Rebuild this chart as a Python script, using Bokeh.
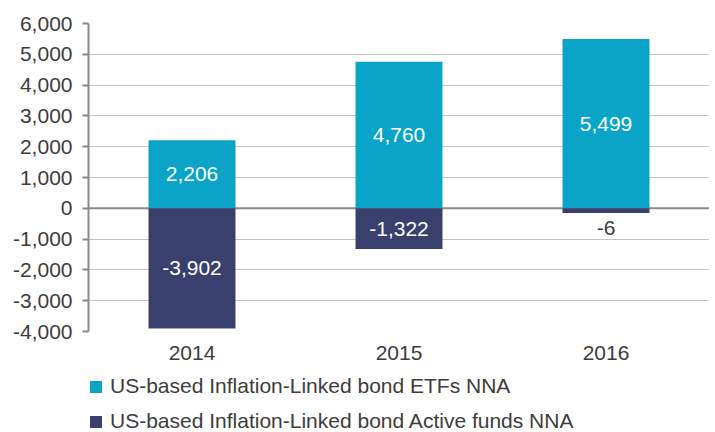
from bokeh.plotting import figure
from bokeh.layouts import column
from bokeh.models import (ColumnDataSource, FactorRange, Range1d, FixedTicker,
                          NumeralTickFormatter, Legend, LegendItem, Span)
from bokeh.embed import file_html
from bokeh.resources import INLINE
from bokeh.core.properties import value

# ---- data ----
years = ["2014", "2015", "2016"]
etf_nna = [2206, 4760, 5499]
active_nna = [-3902, -1322, -6]
y_ticks = [-4000, -3000, -2000, -1000, 0, 1000, 2000, 3000, 4000, 5000, 6000]
etf_name = "US-based Inflation-Linked bond ETFs NNA"
active_name = "US-based Inflation-Linked bond Active funds NNA"

# ---- style ----
CYAN = "#0aa4c8"
NAVY = "#3a406d"
TEXT = "#3c3c3c"
FONT = "Liberation Sans"
FS = "21px"
MIN_VISIBLE = 150      # minimum drawn extent for tiny bars (display only)
SMALL = 1000           # below this magnitude the label sits under the bar

def fmt(v):
    return f"{v:,}"

active_draw = [min(v, -MIN_VISIBLE) if v < 0 else v for v in active_nna]

src = ColumnDataSource(dict(
    year=years, etf=etf_nna, active=active_nna, active_draw=active_draw,
))

lab_x, lab_y, lab_t, lab_c = [], [], [], []
for yr, v in zip(years, etf_nna):
    lab_x.append(yr); lab_y.append(v / 2); lab_t.append(fmt(v)); lab_c.append("white")
for yr, v in zip(years, active_nna):
    lab_x.append(yr)
    if abs(v) >= SMALL:
        lab_y.append(v / 2); lab_c.append("white")
    else:
        lab_y.append(-650); lab_c.append(TEXT)
    lab_t.append(fmt(v))
lab_src = ColumnDataSource(dict(x=lab_x, y=lab_y, t=lab_t, c=lab_c))

p = figure(x_range=FactorRange(*years, range_padding=0),
           y_range=Range1d(y_ticks[0], y_ticks[-1]),
           frame_width=621, frame_height=308,
           min_border_left=88, min_border_top=23, min_border_right=0,
           min_border_bottom=0,
           output_backend="svg", toolbar_location=None)
p.outline_line_color = None
p.background_fill_color = "white"

zero = Span(location=0, dimension="width", line_color="#8a8a8a", line_width=2,
            level="underlay")
p.add_layout(zero)

p.vbar(x="year", top="etf", bottom=0, width=0.42, source=src,
       fill_color=CYAN, line_color=None)
p.vbar(x="year", top=0, bottom="active_draw", width=0.42, source=src,
       fill_color=NAVY, line_color=None)

p.text(x="x", y="y", text="t", text_color="c", source=lab_src,
       text_align="center", text_baseline="middle",
       text_font=value(FONT), text_font_size=FS)

# axes
p.yaxis.ticker = FixedTicker(ticks=y_ticks)
p.yaxis.formatter = NumeralTickFormatter(format="0,0")
p.yaxis.axis_line_color = "#8a8a8a"
p.yaxis.axis_line_width = 2
p.yaxis.major_tick_line_color = "#8a8a8a"
p.yaxis.major_tick_line_width = 2
p.yaxis.major_tick_out = 6
p.yaxis.major_tick_in = 0
p.yaxis.minor_tick_line_color = None
p.yaxis.major_label_text_font = FONT
p.yaxis.major_label_text_font_size = FS
p.yaxis.major_label_text_color = TEXT
p.yaxis.major_label_standoff = 10

p.xaxis.axis_line_color = None
p.xaxis.major_tick_line_color = None
p.xaxis.minor_tick_line_color = None
p.xaxis.major_label_text_font = FONT
p.xaxis.major_label_text_font_size = FS
p.xaxis.major_label_text_color = TEXT
p.xaxis.major_label_standoff = 8

p.xgrid.grid_line_color = None
p.ygrid.grid_line_color = "#c4c4c4"
p.ygrid.grid_line_width = 1

# ---- legend strip below the chart ----
LEG_H = 70
q = figure(x_range=p.x_range, y_range=Range1d(0, 1),
           width=709, height=LEG_H,
           min_border_left=0, min_border_right=0, min_border_top=0,
           min_border_bottom=0, x_axis_type=None, y_axis_type=None,
           output_backend="svg", toolbar_location=None)
q.outline_line_color = None
q.xgrid.grid_line_color = None
q.ygrid.grid_line_color = None
# zero-height proxies (invisible) that only supply the legend swatches
g_etf = q.vbar(x="year", top=0, bottom=0, width=0.42, source=src,
               fill_color=CYAN, line_color=None)
g_act = q.vbar(x="year", top=0, bottom=0, width=0.42, source=src,
               fill_color=NAVY, line_color=None)

legend = Legend(items=[LegendItem(label=etf_name, renderers=[g_etf]),
                       LegendItem(label=active_name, renderers=[g_act])],
                location=(0, -1), orientation="vertical",
                glyph_width=15, glyph_height=15, label_height=15,
                spacing=11, label_standoff=7, padding=0, margin=0,
                border_line_color=None, background_fill_alpha=0,
                label_text_font=FONT, label_text_font_size=FS,
                label_text_color=TEXT)
q.add_layout(legend, "center")

layout = column(p, q, spacing=0)
open("out.html", "w").write(file_html(layout, INLINE))
